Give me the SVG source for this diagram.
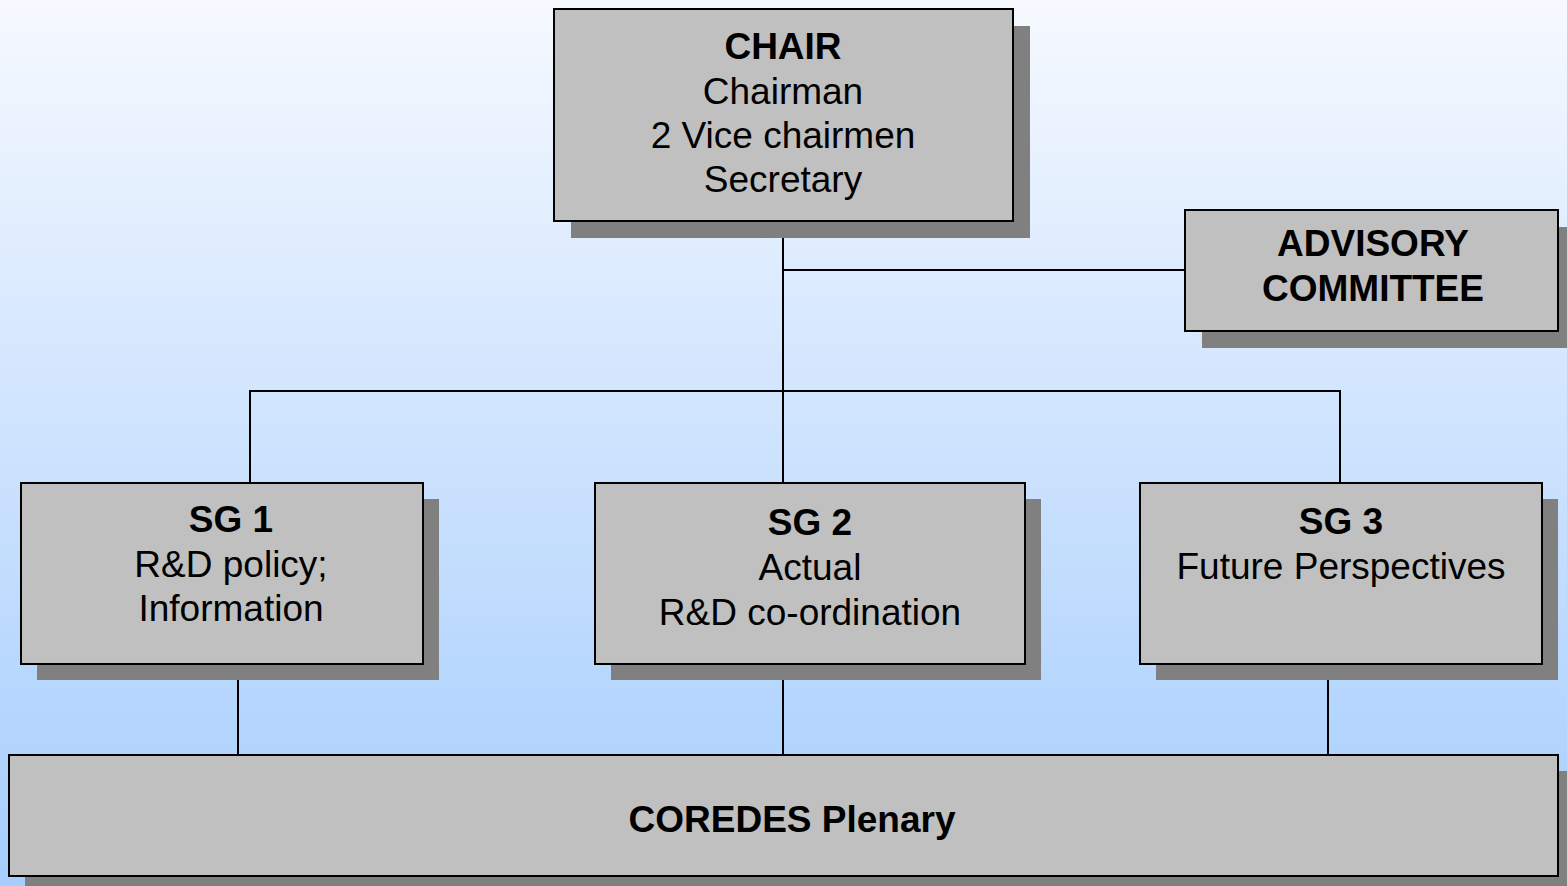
<svg xmlns="http://www.w3.org/2000/svg" width="1567" height="886" viewBox="0 0 1567 886">
<defs>
<linearGradient id="bg" x1="0" y1="0" x2="0" y2="1">
<stop offset="0" stop-color="#f6f9ff"/>
<stop offset="1" stop-color="#a5cdfd"/>
</linearGradient>
</defs>
<style>
.sh{fill:#808080;}
.bx{fill:#c0c0c0;stroke:#000;stroke-width:2;}
.t{font-family:"Liberation Sans",Arial,sans-serif;font-size:37px;fill:#000;text-anchor:middle;}
.b{font-weight:bold;}
.c{stroke:#000;stroke-width:2;fill:none;}
</style>
<rect x="0" y="0" width="1567" height="886" fill="url(#bg)"/>
<g id="connectors">
<path class="c" d="M783,221 V483"/>
<path class="c" d="M783,270 H1185"/>
<path class="c" d="M250,483 V391 H1340 V483"/>
<path class="c" d="M238,664 V755"/>
<path class="c" d="M783,664 V755"/>
<path class="c" d="M1328,664 V755"/>
</g>
<g id="chair">
<rect class="sh" x="571" y="26" width="459" height="212"/>
<rect class="bx" x="554" y="9" width="459" height="212"/>
<text class="t b" x="783" y="59">CHAIR</text>
<text class="t" x="783" y="104">Chairman</text>
<text class="t" x="783" y="148">2 Vice chairmen</text>
<text class="t" x="783" y="192">Secretary</text>
</g>
<g id="advisory">
<rect class="sh" x="1202" y="227" width="373" height="121"/>
<rect class="bx" x="1185" y="210" width="373" height="121"/>
<text class="t b" x="1373" y="256">ADVISORY</text>
<text class="t b" x="1373" y="301">COMMITTEE</text>
</g>
<g id="sg1">
<rect class="sh" x="37" y="499" width="402" height="181"/>
<rect class="bx" x="21" y="483" width="402" height="181"/>
<text class="t b" x="231" y="532">SG 1</text>
<text class="t" x="231" y="577">R&amp;D policy;</text>
<text class="t" x="231" y="621">Information</text>
</g>
<g id="sg2">
<rect class="sh" x="611" y="499" width="430" height="181"/>
<rect class="bx" x="595" y="483" width="430" height="181"/>
<text class="t b" x="810" y="535">SG 2</text>
<text class="t" x="810" y="580">Actual</text>
<text class="t" x="810" y="625">R&amp;D co-ordination</text>
</g>
<g id="sg3">
<rect class="sh" x="1156" y="499" width="402" height="181"/>
<rect class="bx" x="1140" y="483" width="402" height="181"/>
<text class="t b" x="1341" y="534">SG 3</text>
<text class="t" x="1341" y="579">Future Perspectives</text>
</g>
<g id="plenary">
<rect class="sh" x="25" y="771" width="1549" height="121"/>
<rect class="bx" x="9" y="755" width="1549" height="121"/>
<text class="t b" x="792" y="832">COREDES Plenary</text>
</g>
</svg>
